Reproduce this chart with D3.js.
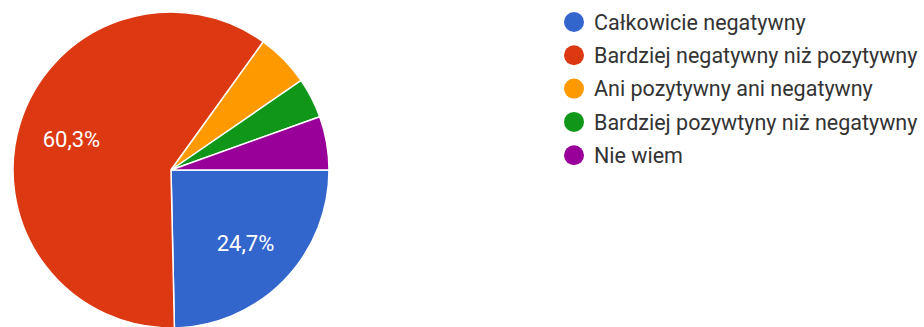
<!DOCTYPE html>
<html lang="pl">
<head>
<meta charset="utf-8" />
<title>Pie chart</title>
<script src="https://d3js.org/d3.v7.min.js"></script>
<style>
  body { margin: 0; background: #fff; }
  text { font-family: Roboto, Arial, sans-serif; }
</style>
</head>
<body>
<script>
  // answer categories and response counts (n = 73)
  var categories = [
    "Całkowicie negatywny",
    "Bardziej negatywny niż pozytywny",
    "Ani pozytywny ani negatywny",
    "Bardziej pozywtyny niż negatywny",
    "Nie wiem"
  ];
  var counts = [18, 44, 4, 3, 4];
  var colors = ["#3366cc", "#dc3912", "#ff9900", "#109618", "#990099"];

  var w = 924, h = 327;
  var cx = 171, cy = 170, r = 158;

  var svg = d3.select("body").append("svg")
      .attr("width", w)
      .attr("height", h);

  var total = d3.sum(counts);
  var data = categories.map(function(c, i) { return {name: c, value: counts[i], color: colors[i]}; });

  // slices start at 3 o'clock and go clockwise
  var pie = d3.pie()
      .sort(null)
      .value(function(d) { return d.value; })
      .startAngle(Math.PI / 2)
      .endAngle(Math.PI / 2 + 2 * Math.PI);

  var arc = d3.arc().innerRadius(0).outerRadius(r);
  var labelArc = d3.arc().innerRadius(r * 0.66).outerRadius(r * 0.66);

  var g = svg.append("g").attr("transform", "translate(" + cx + "," + cy + ")");

  var arcs = pie(data);

  g.selectAll("path")
    .data(arcs)
    .enter()
    .append("path")
    .attr("d", arc)
    .attr("fill", function(d) { return d.data.color; })
    .attr("stroke", "#fff")
    .attr("stroke-width", 1.5);

  // percentage labels only on big slices
  g.selectAll("text.pct")
    .data(arcs.filter(function(d) { return d.data.value / total > 0.1; }))
    .enter()
    .append("text")
    .attr("class", "pct")
    .attr("transform", function(d) { return "translate(" + labelArc.centroid(d) + ")"; })
    .attr("text-anchor", "middle")
    .attr("dy", "0.36em")
    .attr("font-size", "22px")
    .attr("fill", "#fff")
    .text(function(d) {
      return (d.data.value / total * 100).toFixed(1).replace(".", ",") + "%";
    });

  // legend
  var legend = svg.append("g").attr("transform", "translate(574,22)");
  var item = legend.selectAll("g")
    .data(data)
    .enter()
    .append("g")
    .attr("transform", function(d, i) { return "translate(0," + (i * 33.3) + ")"; });

  item.append("circle")
    .attr("r", 10)
    .attr("fill", function(d) { return d.color; });

  item.append("text")
    .attr("x", 20)
    .attr("dy", "0.36em")
    .attr("font-size", "21.5px")
    .attr("fill", "#333")
    .text(function(d) { return d.name; });
</script>
</body>
</html>
